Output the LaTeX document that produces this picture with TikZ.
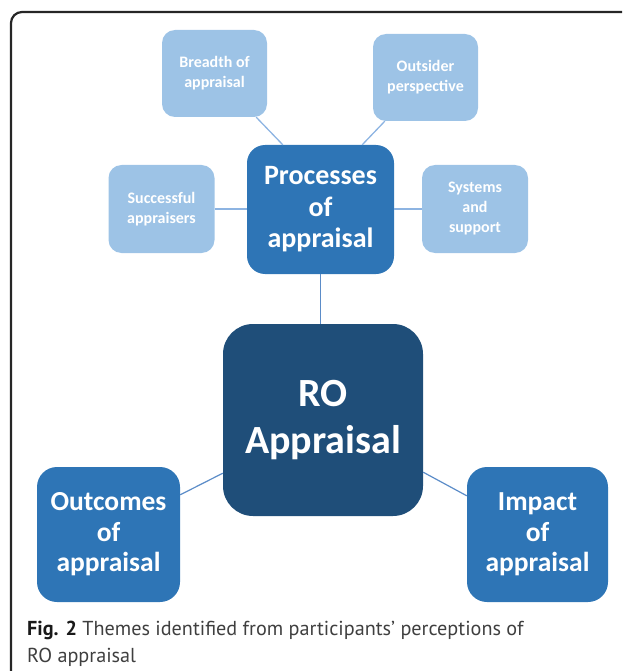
\documentclass[tikz,border=0pt]{standalone}
\usepackage{fontspec}
\setmainfont{Carlito}
\newfontfamily\capfont{PT Sans}
\definecolor{lightbox}{HTML}{9DC3E6}
\definecolor{midbox}{HTML}{2E75B6}
\definecolor{darkbox}{HTML}{1F4E79}
\definecolor{toplink}{HTML}{8DB4E2}
\definecolor{lowlink}{HTML}{5B8CC8}
\definecolor{captext}{HTML}{3F3F3F}
\begin{document}
\begin{tikzpicture}[x=1pt,y=-1pt,
  boxbase/.style={align=center, text=white, inner sep=0pt},
  smallbox/.style={boxbase, fill=lightbox, rounded corners=13pt, minimum width=105pt, minimum height=87pt,
     font=\fontsize{16}{20}\selectfont\bfseries},
  midnode/.style={boxbase, fill=midbox, rounded corners=20pt, font=\fontsize{27.5}{30.5}\selectfont\bfseries},
  bignode/.style={boxbase, fill=darkbox, rounded corners=30pt, minimum width=200pt, minimum height=192pt,
     font=\fontsize{40}{47}\selectfont\bfseries},
  toplinkstyle/.style={draw=toplink, line width=1.3pt},
  lowlinkstyle/.style={draw=lowlink, line width=1.2pt},
  captionstyle/.style={anchor=base west, inner sep=0pt, text=captext, font=\capfont\fontsize{20.2}{27}\selectfont}
]
\path[use as bounding box] (0,0) rectangle (622,671);
\clip (0,0) rectangle (622,671);

% frame
\draw[line width=2.2pt, draw=black!85, rounded corners=11pt] (660,12) -- (11,12) -- (11,700);

% nodes
\node[smallbox] (breadth) at (214.5,73.5) {Breadth of\\appraisal};
\node[smallbox] (outsider) at (425.5,77.5) {Outsider\\perspective};
\node[smallbox, minimum width=106pt, minimum height=88pt] (successful) at (161.5,209) {Successful\\appraisers};
\node[smallbox, minimum width=106pt, minimum height=88pt] (systems) at (475,209) {Systems\\and\\support};
\node[midnode, rounded corners=18pt, minimum width=147pt, minimum height=129pt,
      font=\fontsize{28}{31.5}\selectfont\bfseries] (processes) at (320.5,209.5) {Processes\\of\\appraisal};
\node[bignode] (ro) at (323,420) {RO\\Appraisal};
\node[midnode, minimum width=143pt, minimum height=135pt] (outcomes) at (108.5,534.5) {Outcomes\\of\\appraisal};
\node[midnode, minimum width=141pt, minimum height=135pt] (impact) at (537.5,534.5) {Impact\\of\\appraisal};

% connectors
\draw[toplinkstyle] ([xshift=-11pt]breadth.south east) -- ([xshift=36pt]processes.north west);
\draw[toplinkstyle] ([xshift=12pt]outsider.south west) -- ([xshift=-32pt]processes.north east);
\draw[toplinkstyle] (successful.east) -- (successful.east -| processes.west);
\draw[toplinkstyle] (systems.west) -- (systems.west -| processes.east);
\draw[lowlinkstyle] (processes.south) -- (processes.south |- ro.north);
\draw[lowlinkstyle] ([yshift=43pt]ro.south west) -- ([yshift=-28pt]outcomes.north east);
\draw[lowlinkstyle] ([yshift=44pt]ro.south east) -- ([yshift=-29pt]impact.north west);

% caption
\node[captionstyle] (cap1) at (27,635) {{\bfseries\color{black!90}Fig. 2} Themes identified from participants’ perceptions of};
\node[captionstyle] (cap2) at (27,662) {RO appraisal};
\end{tikzpicture}
\end{document}
